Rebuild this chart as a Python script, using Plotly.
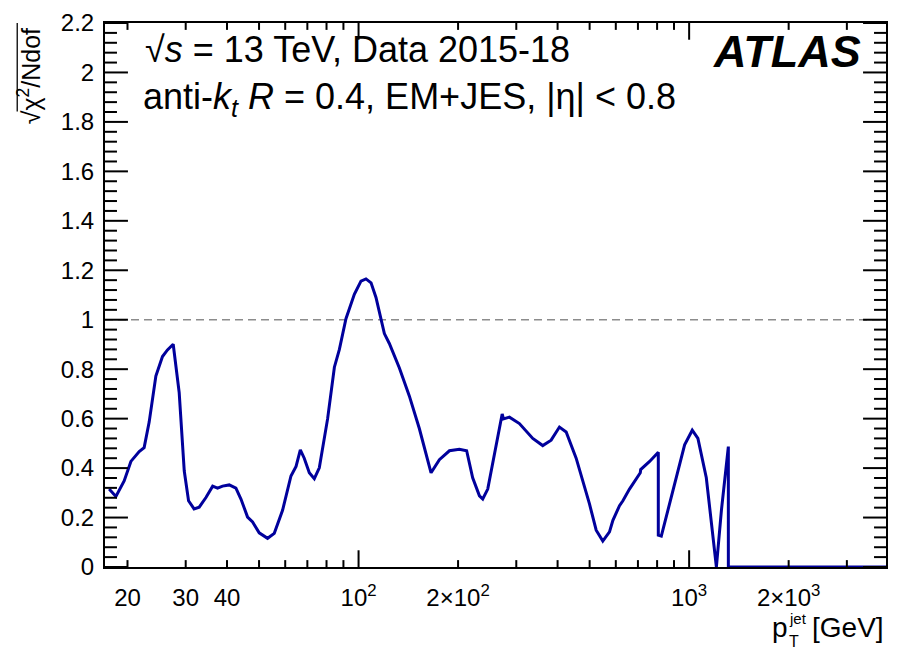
import math
import plotly.graph_objects as go

# Jet pT [GeV] and sqrt(chi2/Ndof) of the closure test
pt = [17.6, 18.45, 19.54, 20.48, 21.7, 22.46, 23.26, 24.37, 25.52, 26.42,
      27.5, 28.67, 29.7, 30.6, 31.8, 32.96, 34.54, 36.2, 37.45, 38.78,
      40.63, 42.56, 44.08, 46.16, 47.8, 50.06, 53.06, 55.6, 58.9, 62.45,
      64.7, 66.66, 68.5, 70.96, 73.47, 76.08, 80.6, 84.5, 87.5, 91.6,
      97.1, 101.7, 105.3, 109.1, 112.9, 116.9, 119.7, 123.9, 132.9, 142.4,
      152.7, 165.7, 175.6, 188.3, 201.8, 212.3, 221.4, 232.1, 237.5, 245.9,
      257.6, 266.8, 271.9, 274.4, 286.1, 306.6, 336.5, 360.7, 382.4, 405.2,
      424.6, 455.2, 499.5, 523.4, 548.1, 574.2, 588.0, 615.7, 630.4, 660.0,
      711.6, 713.5, 759.3, 806.7, 806.7, 823.8, 853.0, 914.5, 969.0, 1022.0,
      1063.0, 1127.0, 1180.0, 1209.0, 1252.0, 1296.0, 1314.0, 1314.0, 4000.0]
chi = [0.315, 0.285, 0.348, 0.427, 0.467, 0.483, 0.586, 0.772, 0.851, 0.878,
       0.901, 0.705, 0.388, 0.268, 0.235, 0.242, 0.281, 0.327, 0.319, 0.327,
       0.332, 0.319, 0.275, 0.202, 0.182, 0.138, 0.116, 0.136, 0.229, 0.368,
       0.407, 0.474, 0.440, 0.381, 0.357, 0.401, 0.599, 0.808, 0.880, 1.004,
       1.103, 1.156, 1.165, 1.149, 1.090, 1.010, 0.944, 0.904, 0.805, 0.692,
       0.560, 0.381, 0.434, 0.470, 0.476, 0.470, 0.361, 0.288, 0.275, 0.315,
       0.454, 0.573, 0.619, 0.599, 0.606, 0.580, 0.520, 0.491, 0.513, 0.566,
       0.546, 0.440, 0.255, 0.149, 0.105, 0.142, 0.189, 0.248, 0.268, 0.315,
       0.381, 0.394, 0.427, 0.464, 0.129, 0.125, 0.202, 0.361, 0.494, 0.553,
       0.520, 0.361, 0.136, 0.000, 0.229, 0.401, 0.487, 0.000, 0.000]

# labelled x ticks; every other 1-9 multiple of a decade gets a bare tick
x_labels = {20: "20", 30: "30", 40: "40", 100: "10<sup>2</sup>",
            200: "2×10<sup>2</sup>", 1000: "10<sup>3</sup>",
            2000: "2×10<sup>3</sup>"}
x_decades = [100, 1000]
x_range = [17.1, 3940]
y_range = [0, 2.2]
y_major_step = 0.2
y_minor_step = 0.04
reference_level = 1.0

FONT = "Liberation Sans, Arial, Helvetica, sans-serif"
W, H = 897, 651
ML, MR, MT, MB = 105, 9, 14, 84
PW, PH = W - ML - MR, H - MT - MB

lx0, lx1 = math.log10(x_range[0]), math.log10(x_range[1])

x_tick_vals = [m * 10 ** d for d in (1, 2, 3) for m in range(1, 10)
               if x_range[0] <= m * 10 ** d <= x_range[1]]
x_tick_text = [x_labels.get(v, "") for v in x_tick_vals]


def paper(xpx, ypx):
    """Pixel position in the page -> paper coordinates."""
    return (xpx - ML) / PW, (H - MB - ypx) / PH


fig = go.Figure()

# ROOT-style frame ticks (inside, on all four sides), drawn as paper-space lines
tick_line = dict(color="black", width=2)
n_minor = round((y_range[1] - y_range[0]) / y_minor_step)
for i in range(n_minor + 1):
    yv = y_range[0] + i * y_minor_step
    length = 23 if i % round(y_major_step / y_minor_step) == 0 else 12
    yp = (yv - y_range[0]) / (y_range[1] - y_range[0])
    fig.add_shape(type="line", xref="paper", yref="paper", x0=0,
                  x1=length / PW, y0=yp, y1=yp, line=tick_line)
    fig.add_shape(type="line", xref="paper", yref="paper", x0=1,
                  x1=1 - length / PW, y0=yp, y1=yp, line=tick_line)
for xv in x_tick_vals:
    length = 17 if xv in x_decades else 7
    xp = (math.log10(xv) - lx0) / (lx1 - lx0)
    fig.add_shape(type="line", xref="paper", yref="paper", x0=xp, x1=xp,
                  y0=0, y1=length / PH, line=tick_line)
    fig.add_shape(type="line", xref="paper", yref="paper", x0=xp, x1=xp,
                  y0=1, y1=1 - length / PH, line=tick_line)

fig.add_trace(go.Scatter(
    x=pt, y=chi, mode="lines",
    line=dict(color="#00009c", width=3),
    showlegend=False, hoverinfo="skip",
))

# dashed reference line at sqrt(chi2/Ndof) = 1
fig.add_shape(type="line", xref="paper", x0=0, x1=1, yref="y",
              y0=reference_level, y1=reference_level, layer="below",
              line=dict(color="#8c8c8c", width=1.5, dash="8px,5px"))

axis_common = dict(
    showgrid=False, zeroline=False, showline=True, linecolor="black",
    linewidth=2, mirror=True, ticks="",
    tickfont=dict(family=FONT, size=24, color="black"),
)

fig.update_layout(
    width=W, height=H,
    margin=dict(l=ML, r=MR, t=MT, b=MB, pad=0),
    paper_bgcolor="white", plot_bgcolor="white",
    font=dict(family=FONT, color="black"),
    xaxis=dict(
        type="log", range=[lx0, lx1],
        tickmode="array", tickvals=x_tick_vals, ticktext=x_tick_text,
        ticklabelstandoff=8,
        **axis_common,
    ),
    yaxis=dict(
        range=y_range, tick0=0, dtick=y_major_step, ticklabelstandoff=4,
        **axis_common,
    ),
)

annotations = []


def label(text, xpx, ypx, size, xanchor="left", yanchor="middle", angle=0):
    x, y = paper(xpx, ypx)
    annotations.append(dict(
        text=text, x=x, y=y, xref="paper", yref="paper",
        xanchor=xanchor, yanchor=yanchor, showarrow=False, textangle=angle,
        font=dict(family=FONT, size=size, color="black"),
    ))


label("√<i>s</i> = 13 TeV, Data 2015-18", 143, 41, 36)
label("anti-<i>k</i><sub><i>t</i></sub> <i>R</i> = 0.4, EM+JES, |η| &lt; 0.8",
      141, 91, 36)
label("<b><i>ATLAS</i></b>", 865, 43, 45, xanchor="right")
label("√χ<sup>2</sup>/Ndof", 29, 68, 25, xanchor="center", angle=-90)
# radical bar over the y-axis title
bx0, by0 = paper(17, 14)
bx1, by1 = paper(17, 104)
fig.add_shape(type="line", xref="paper", yref="paper", x0=bx0, x1=bx1,
              y0=by0, y1=by1, line=dict(color="black", width=1.3))
# x-axis title: p with stacked T subscript / jet superscript
label("p", 772, 629, 28)
label("jet", 789, 619, 15)
label("T", 789, 643, 16)
label("[GeV]", 888, 629, 28, xanchor="right")

fig.update_layout(annotations=annotations)
fig.write_html("out.html")
